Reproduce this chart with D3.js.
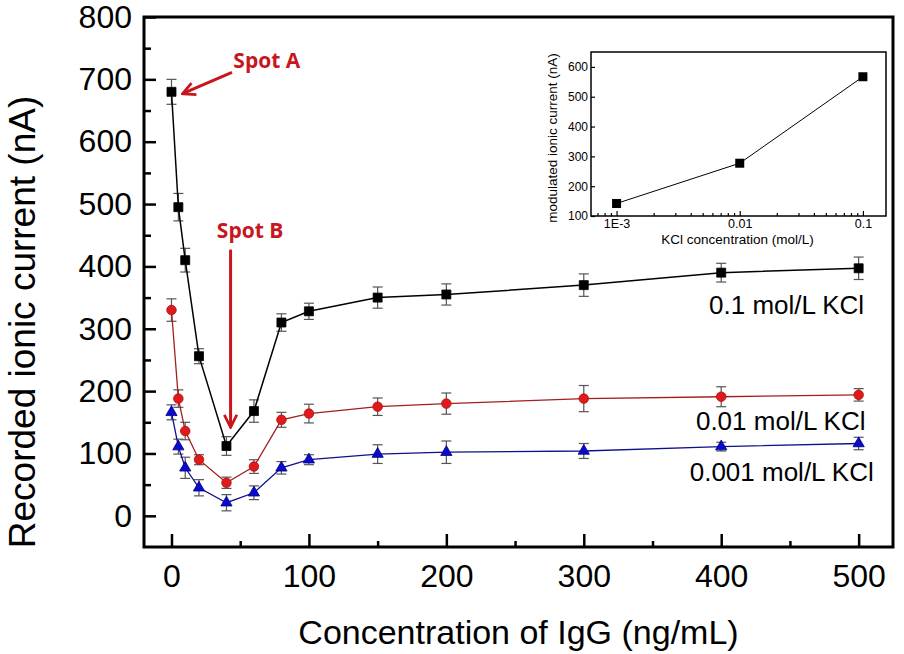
<!DOCTYPE html>
<html><head><meta charset="utf-8">
<script src="https://cdn.jsdelivr.net/npm/d3@7"></script>
<style>body{margin:0;background:#fff}svg{display:block}</style>
</head><body><svg id="c" width="904" height="654"></svg>
<script>
// ---------- data ----------
const concIgG = [0, 5, 10, 20, 40, 60, 80, 100, 150, 200, 300, 400, 500];
const current01 = [680, 495, 410, 256, 112, 168, 310, 328, 350, 355, 370, 390, 397];
const err01 = [20, 22, 19, 12, 15, 18, 14, 13, 17, 17, 18, 15, 18];
const current001 = [330, 188, 136, 90, 53, 79, 154, 164, 175, 180, 188, 191, 194];
const err001 = [18, 14, 14, 8, 9, 11, 12, 15, 14, 17, 21, 16, 10];
const current0001 = [166, 111, 77, 45, 21, 37, 77, 90, 99, 102, 104, 111, 116];
const err0001 = [12, 12, 17, 13, 13, 11, 10, 8, 15, 18, 12, 7, 10];
const seriesLabels = ["0.1 mol/L KCl", "0.01 mol/L KCl", "0.001 mol/L KCl"];

const xTicks = [0, 100, 200, 300, 400, 500];
const xMinor = [50, 150, 250, 350, 450];
const yTicks = [0, 100, 200, 300, 400, 500, 600, 700, 800];
const yMinor = [50, 150, 250, 350, 450, 550, 650, 750];

// inset
const kclConc = [0.001, 0.01, 0.1];
const modulated = [142, 277, 567];
const insetXTicks = [0.001, 0.01, 0.1];
const insetXLabels = ["1E-3", "0.01", "0.1"];
const insetYTicks = [100, 200, 300, 400, 500, 600];

const FONT = "'Liberation Sans', Arial, sans-serif";
const svg = d3.select("#c");

// ---------- main scales ----------
const L = 144, R = 893, T = 17, B = 547;
const x = d3.scaleLinear().domain([-20, 525]).range([L, R]);
const y = d3.scaleLinear().domain([-50, 800]).range([B, T]);

function styleAxis(g, size) {
  g.select(".domain").remove();
  g.selectAll("line").attr("stroke", "#000").attr("stroke-width", 2.5);
  g.selectAll("text").attr("font-family", FONT).attr("font-size", size).attr("fill", "#000");
}
svg.append("g").attr("transform", `translate(${L},0)`)
  .call(d3.axisLeft(y).tickValues(yTicks).tickSize(-12).tickPadding(12))
  .call(g => styleAxis(g, 32));
svg.append("g").attr("transform", `translate(${L},0)`)
  .call(d3.axisLeft(y).tickValues(yMinor).tickSize(-7).tickFormat(""))
  .call(g => styleAxis(g, 32));
svg.append("g").attr("transform", `translate(0,${B})`)
  .call(d3.axisBottom(x).tickValues(xTicks).tickSize(-13).tickPadding(17))
  .call(g => styleAxis(g, 32));
svg.append("g").attr("transform", `translate(0,${B})`)
  .call(d3.axisBottom(x).tickValues(xMinor).tickSize(-6).tickFormat(""))
  .call(g => styleAxis(g, 32));

// frame
svg.append("rect").attr("x", L).attr("y", T).attr("width", R - L).attr("height", B - T)
  .attr("fill", "none").attr("stroke", "#000").attr("stroke-width", 3);

// axis titles
svg.append("text").attr("x", (L + R) / 2).attr("y", 644).attr("text-anchor", "middle")
  .attr("font-family", FONT).attr("font-size", 34).text("Concentration of IgG (ng/mL)");
svg.append("text").attr("transform", "translate(35,322) rotate(-90)").attr("text-anchor", "middle")
  .attr("font-family", FONT).attr("font-size", 37).text("Recorded ionic current (nA)");

// ---------- series ----------
const series = [
  { vals: current01, errs: err01, fill: "#000", stroke: "#000", line: "#000", shape: d3.symbolSquare, size: 81, lw: 1.5 },
  { vals: current001, errs: err001, fill: "#e0191c", stroke: "#b01010", line: "#a0201c", shape: d3.symbolCircle, size: 72, lw: 1.3 },
  { vals: current0001, errs: err0001, fill: "#0a0acc", stroke: "#00008a", line: "#10108a", shape: d3.symbolTriangle, size: 55, lw: 1.3 }
];

series.forEach(s => {
  const g = svg.append("g").attr("stroke", "#555").attr("stroke-width", 1.2);
  concIgG.forEach((c, i) => {
    const cx = x(c), y1 = y(s.vals[i] + s.errs[i]), y2 = y(s.vals[i] - s.errs[i]);
    g.append("line").attr("x1", cx).attr("x2", cx).attr("y1", y1).attr("y2", y2);
    g.append("line").attr("x1", cx - 5).attr("x2", cx + 5).attr("y1", y1).attr("y2", y1);
    g.append("line").attr("x1", cx - 5).attr("x2", cx + 5).attr("y1", y2).attr("y2", y2);
  });
});
series.forEach(s => {
  svg.append("path").datum(concIgG.map((c, i) => [c, s.vals[i]]))
    .attr("fill", "none").attr("stroke", s.line).attr("stroke-width", s.lw)
    .attr("d", d3.line().x(d => x(d[0])).y(d => y(d[1])));
});
series.forEach(s => {
  svg.append("g").selectAll("path").data(concIgG.map((c, i) => [c, s.vals[i]])).join("path")
    .attr("transform", d => `translate(${x(d[0])},${y(d[1])})`)
    .attr("d", d3.symbol().type(s.shape).size(s.size))
    .attr("fill", s.fill).attr("stroke", s.stroke).attr("stroke-width", 0.8);
});

const labelPos = [[504, 323], [505, 138], [511, 56]];
seriesLabels.forEach((t, i) => {
  svg.append("text").attr("x", x(labelPos[i][0])).attr("y", y(labelPos[i][1]))
    .attr("text-anchor", "end").attr("font-family", FONT).attr("font-size", 26).text(t);
});

// ---------- annotations ----------
const RED = "#c8161d";
const defs = svg.append("defs");
defs.append("marker").attr("id", "ah").attr("viewBox", "0 0 12 12").attr("refX", 11).attr("refY", 6)
  .attr("markerWidth", 5).attr("markerHeight", 5).attr("markerUnits", "strokeWidth").attr("orient", "auto")
  .append("path").attr("d", "M1,1 L11,6 L1,11").attr("fill", "none").attr("stroke", RED).attr("stroke-width", 2.2)
  .attr("stroke-linejoin", "miter");
svg.append("line").attr("x1", x(44)).attr("y1", y(711)).attr("x2", x(8)).attr("y2", y(677))
  .attr("stroke", RED).attr("stroke-width", 3).attr("marker-end", "url(#ah)");
svg.append("line").attr("x1", x(43)).attr("y1", y(427)).attr("x2", x(43)).attr("y2", y(142))
  .attr("stroke", RED).attr("stroke-width", 3).attr("marker-end", "url(#ah)");
svg.append("text").attr("x", x(45)).attr("y", y(719)).attr("fill", RED)
  .attr("font-family", "'Open Sans', sans-serif").attr("font-weight", "bold").attr("font-size", 21).text("Spot A");
svg.append("text").attr("x", x(33)).attr("y", y(445)).attr("fill", RED)
  .attr("font-family", "'Open Sans', sans-serif").attr("font-weight", "bold").attr("font-size", 21).text("Spot B");

// ---------- inset ----------
const iL = 591, iR = 886, iT = 52, iB = 216;
const ix = d3.scaleLog().domain([6.2e-4, 0.154]).range([iL, iR]);
const iy = d3.scaleLinear().domain([100, 650]).range([iB, iT]);
function styleInset(g, size) {
  g.select(".domain").remove();
  g.selectAll("line").attr("stroke", "#000").attr("stroke-width", 1.2);
  g.selectAll("text").attr("font-family", FONT).attr("font-size", size).attr("fill", "#000");
}
svg.append("g").attr("transform", `translate(${iL},0)`)
  .call(d3.axisLeft(iy).tickValues(insetYTicks).tickSize(-4).tickPadding(3))
  .call(g => styleInset(g, 12));
const minorLog = [];
[0.0001, 0.001, 0.01, 0.1].forEach(dec => { for (let k = 2; k <= 9; k++) { const v = dec * k; if (v > 6.2e-4 && v < 0.154) minorLog.push(v); } });
svg.append("g").attr("transform", `translate(0,${iB})`)
  .call(d3.axisBottom(ix).tickValues(insetXTicks).tickSize(-5).tickPadding(3).tickFormat((d, i) => insetXLabels[i]))
  .call(g => styleInset(g, 12.5));
svg.append("g").attr("transform", `translate(0,${iB})`)
  .call(d3.axisBottom(ix).tickValues(minorLog).tickSize(-3).tickFormat(""))
  .call(g => styleInset(g, 12.5));
svg.append("rect").attr("x", iL).attr("y", iT).attr("width", iR - iL).attr("height", iB - iT)
  .attr("fill", "none").attr("stroke", "#000").attr("stroke-width", 1.5);
svg.append("path").datum(kclConc.map((c, i) => [c, modulated[i]]))
  .attr("fill", "none").attr("stroke", "#000").attr("stroke-width", 1)
  .attr("d", d3.line().x(d => ix(d[0])).y(d => iy(d[1])));
svg.append("g").selectAll("rect").data(kclConc.map((c, i) => [c, modulated[i]])).join("rect")
  .attr("x", d => ix(d[0]) - 4.5).attr("y", d => iy(d[1]) - 4.5).attr("width", 9).attr("height", 9).attr("fill", "#000");
svg.append("text").attr("x", (iL + iR) / 2 - 1).attr("y", 244).attr("text-anchor", "middle")
  .attr("font-family", FONT).attr("font-size", 13.5).text("KCl concentration (mol/L)");
svg.append("text").attr("transform", `translate(557,${(iT + iB) / 2 + 4}) rotate(-90)`).attr("text-anchor", "middle")
  .attr("font-family", FONT).attr("font-size", 13.5).text("modulated ionic current (nA)");
</script>
</body></html>
